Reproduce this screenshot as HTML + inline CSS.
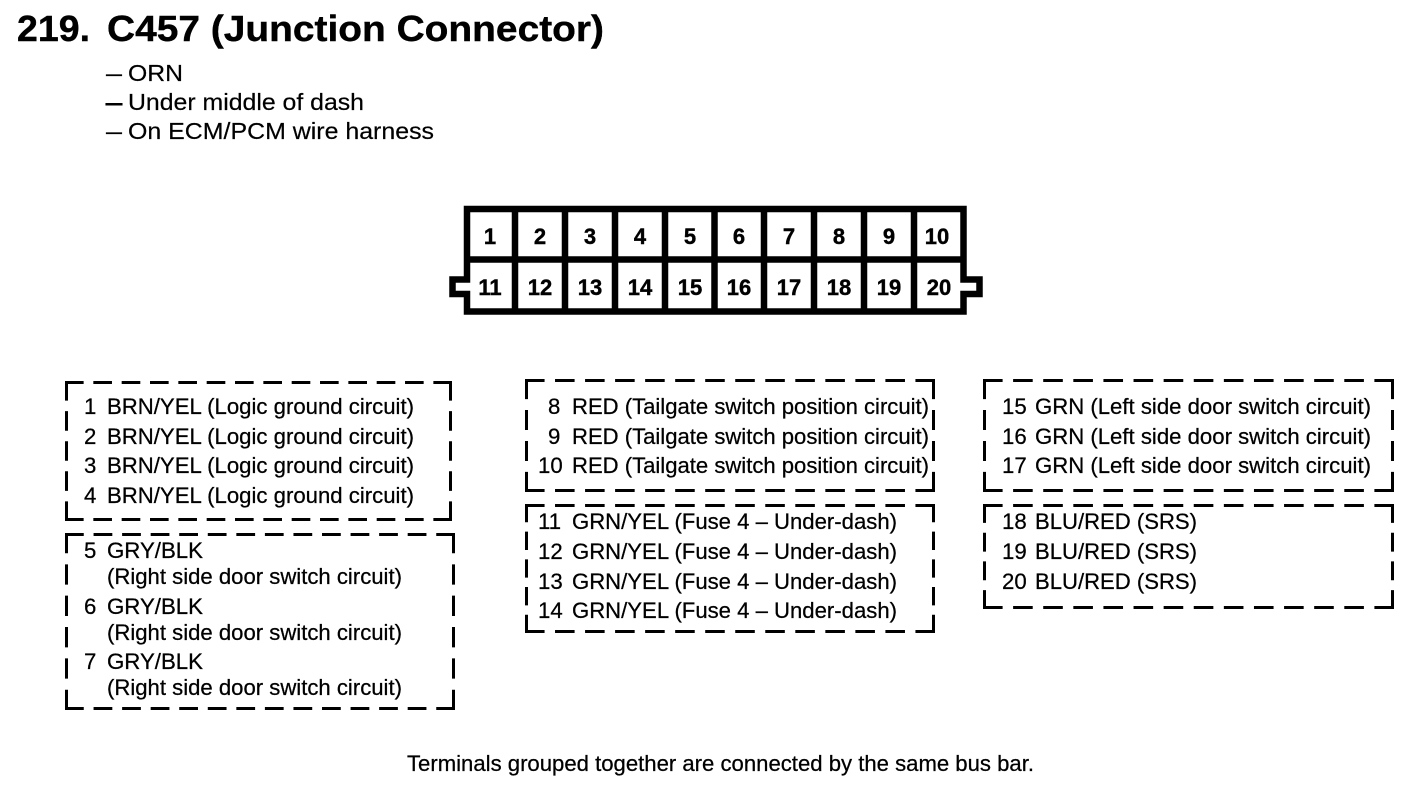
<!DOCTYPE html>
<html><head><meta charset="utf-8"><style>
html,body{margin:0;padding:0;background:#fff}
svg{display:block}
text{font-family:"Liberation Sans",sans-serif;fill:#000}
.t{font-size:22.2px;stroke:#000;stroke-width:.25px}
.s{font-size:23.5px;stroke:#000;stroke-width:.2px}
.n{font-size:22px;font-weight:bold;text-anchor:middle;stroke:#000;stroke-width:.4px}
.d path{fill:none;stroke:#000;stroke-width:3;stroke-dasharray:16 13;stroke-linecap:square}
</style></head><body>
<svg width="1408" height="806" viewBox="0 0 1408 806" xmlns="http://www.w3.org/2000/svg">
<text x="17" y="41" font-size="36" font-weight="bold" textLength="73" lengthAdjust="spacingAndGlyphs" stroke="#000" stroke-width=".4">219.</text>
<text x="107" y="41" font-size="36" font-weight="bold" textLength="497" lengthAdjust="spacingAndGlyphs" stroke="#000" stroke-width=".4">C457 (Junction Connector)</text>
<text class="s" x="106" y="81" textLength="16" lengthAdjust="spacingAndGlyphs">–</text><text class="s" x="128" y="81" textLength="55" lengthAdjust="spacingAndGlyphs">ORN</text>
<text class="s" x="106" y="110" textLength="16" lengthAdjust="spacingAndGlyphs" style="stroke-width:.9px">–</text><text class="s" x="128" y="110" textLength="236" lengthAdjust="spacingAndGlyphs">Under middle of dash</text>
<text class="s" x="106" y="139" textLength="16" lengthAdjust="spacingAndGlyphs">–</text><text class="s" x="128" y="139" textLength="306" lengthAdjust="spacingAndGlyphs">On ECM/PCM wire harness</text>

<path d="M467 279.500H452.500V294H467V311.500H963.500V294H979.500V279.500H963.500V209H467Z" fill="none" stroke="#000" stroke-width="6.500" stroke-linejoin="miter"/>
<path d="M467 259.500H963.500M515 209V312M565 209V312M615 209V312M665 209V312M714.500 209V312M764 209V312M814 209V312M864 209V312M914 209V312" fill="none" stroke="#000" stroke-width="6.500"/>
<g>
<text class="n" x="490" y="244">1</text><text class="n" x="540" y="244">2</text><text class="n" x="590" y="244">3</text><text class="n" x="640" y="244">4</text><text class="n" x="690" y="244">5</text><text class="n" x="739" y="244">6</text><text class="n" x="789" y="244">7</text><text class="n" x="839" y="244">8</text><text class="n" x="889" y="244">9</text><text class="n" x="937" y="244">10</text>
<text class="n" x="490" y="295">11</text><text class="n" x="540" y="295">12</text><text class="n" x="590" y="295">13</text><text class="n" x="640" y="295">14</text><text class="n" x="690" y="295">15</text><text class="n" x="739" y="295">16</text><text class="n" x="789" y="295">17</text><text class="n" x="839" y="295">18</text><text class="n" x="889" y="295">19</text><text class="n" x="939" y="295">20</text>
</g>

<g class="d">
<path pathLength="393" d="M66.500 382.500H450.500"/><path pathLength="393" d="M66.500 519.500H450.500"/><path pathLength="132" d="M66.500 382.500V519.500"/><path pathLength="132" d="M450.500 382.500V519.500"/>
<path pathLength="393" d="M66.500 534.500H453.500"/><path pathLength="393" d="M66.500 708.500H453.500"/><path pathLength="161" d="M66.500 534.500V708.500"/><path pathLength="161" d="M453.500 534.500V708.500"/>
<path pathLength="393" d="M526.500 380.500H933.500"/><path pathLength="393" d="M526.500 490.500H933.500"/><path pathLength="103" d="M526.500 380.500V490.500"/><path pathLength="103" d="M933.500 380.500V490.500"/>
<path pathLength="393" d="M526.500 505.500H933.500"/><path pathLength="393" d="M526.500 631.500H933.500"/><path pathLength="132" d="M526.500 505.500V631.500"/><path pathLength="132" d="M933.500 505.500V631.500"/>
<path pathLength="393" d="M984.500 380.500H1392.500"/><path pathLength="393" d="M984.500 490.500H1392.500"/><path pathLength="103" d="M984.500 380.500V490.500"/><path pathLength="103" d="M1392.500 380.500V490.500"/>
<path pathLength="393" d="M984.500 505.500H1392.500"/><path pathLength="393" d="M984.500 607.500H1392.500"/><path pathLength="103" d="M984.500 505.500V607.500"/><path pathLength="103" d="M1392.500 505.500V607.500"/>
</g>

<text class="t" x="84" y="414">1</text><text class="t" x="107" y="414" textLength="307" lengthAdjust="spacingAndGlyphs">BRN/YEL (Logic ground circuit)</text>
<text class="t" x="84" y="444">2</text><text class="t" x="107" y="444" textLength="307" lengthAdjust="spacingAndGlyphs">BRN/YEL (Logic ground circuit)</text>
<text class="t" x="84" y="473">3</text><text class="t" x="107" y="473" textLength="307" lengthAdjust="spacingAndGlyphs">BRN/YEL (Logic ground circuit)</text>
<text class="t" x="84" y="503">4</text><text class="t" x="107" y="503" textLength="307" lengthAdjust="spacingAndGlyphs">BRN/YEL (Logic ground circuit)</text>

<text class="t" x="84" y="558">5</text><text class="t" x="107" y="558" textLength="96" lengthAdjust="spacingAndGlyphs">GRY/BLK</text>
<text class="t" x="107" y="584" textLength="295" lengthAdjust="spacingAndGlyphs">(Right side door switch circuit)</text>
<text class="t" x="84" y="614">6</text><text class="t" x="107" y="614" textLength="96" lengthAdjust="spacingAndGlyphs">GRY/BLK</text>
<text class="t" x="107" y="640" textLength="295" lengthAdjust="spacingAndGlyphs">(Right side door switch circuit)</text>
<text class="t" x="84" y="669">7</text><text class="t" x="107" y="669" textLength="96" lengthAdjust="spacingAndGlyphs">GRY/BLK</text>
<text class="t" x="107" y="695" textLength="295" lengthAdjust="spacingAndGlyphs">(Right side door switch circuit)</text>

<text class="t" x="548" y="414">8</text><text class="t" x="572" y="414" textLength="357" lengthAdjust="spacingAndGlyphs">RED (Tailgate switch position circuit)</text>
<text class="t" x="548" y="444">9</text><text class="t" x="572" y="444" textLength="357" lengthAdjust="spacingAndGlyphs">RED (Tailgate switch position circuit)</text>
<text class="t" x="538" y="473">10</text><text class="t" x="572" y="473" textLength="357" lengthAdjust="spacingAndGlyphs">RED (Tailgate switch position circuit)</text>

<text class="t" x="538" y="529">11</text><text class="t" x="572" y="529" textLength="325" lengthAdjust="spacingAndGlyphs">GRN/YEL (Fuse 4 – Under-dash)</text>
<text class="t" x="538" y="559">12</text><text class="t" x="572" y="559" textLength="325" lengthAdjust="spacingAndGlyphs">GRN/YEL (Fuse 4 – Under-dash)</text>
<text class="t" x="538" y="589">13</text><text class="t" x="572" y="589" textLength="325" lengthAdjust="spacingAndGlyphs">GRN/YEL (Fuse 4 – Under-dash)</text>
<text class="t" x="538" y="618">14</text><text class="t" x="572" y="618" textLength="325" lengthAdjust="spacingAndGlyphs">GRN/YEL (Fuse 4 – Under-dash)</text>

<text class="t" x="1002" y="414">15</text><text class="t" x="1035" y="414" textLength="336" lengthAdjust="spacingAndGlyphs">GRN (Left side door switch circuit)</text>
<text class="t" x="1002" y="444">16</text><text class="t" x="1035" y="444" textLength="336" lengthAdjust="spacingAndGlyphs">GRN (Left side door switch circuit)</text>
<text class="t" x="1002" y="473">17</text><text class="t" x="1035" y="473" textLength="336" lengthAdjust="spacingAndGlyphs">GRN (Left side door switch circuit)</text>

<text class="t" x="1002" y="529">18</text><text class="t" x="1035" y="529" textLength="162" lengthAdjust="spacingAndGlyphs">BLU/RED (SRS)</text>
<text class="t" x="1002" y="559">19</text><text class="t" x="1035" y="559" textLength="162" lengthAdjust="spacingAndGlyphs">BLU/RED (SRS)</text>
<text class="t" x="1002" y="589">20</text><text class="t" x="1035" y="589" textLength="162" lengthAdjust="spacingAndGlyphs">BLU/RED (SRS)</text>

<text class="t" x="407" y="771" textLength="627" lengthAdjust="spacingAndGlyphs">Terminals grouped together are connected by the same bus bar.</text>
</svg>
</body></html>
